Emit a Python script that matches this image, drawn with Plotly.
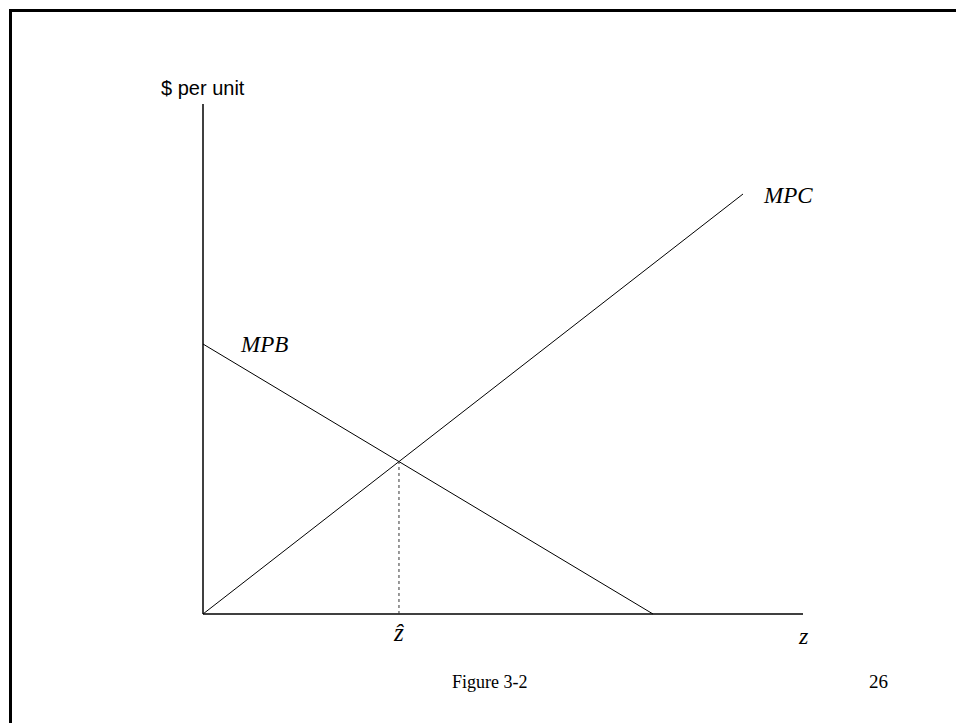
import plotly.graph_objects as go

# ---- data (economic units) ----
mpb_z = [0.0, 7.5]
mpb_p = [4.5, 0.0]
mpc_z = [0.0, 9.0]
mpc_p = [0.0, 7.0]
axis_x_max = 10.0
axis_y_max = 8.5

# equilibrium from the two lines
slope_b = (mpb_p[1] - mpb_p[0]) / (mpb_z[1] - mpb_z[0])
slope_c = (mpc_p[1] - mpc_p[0]) / (mpc_z[1] - mpc_z[0])
z_hat = (mpb_p[0] - mpc_p[0]) / (slope_c - slope_b)
p_hat = mpc_p[0] + slope_c * z_hat

W, H = 956, 723
ox, oy, s = 203, 614, 60.0  # origin pixel and pixels per unit

fig = go.Figure()
line_style = dict(color="black", width=1)
fig.add_trace(go.Scatter(x=[0, 0], y=[0, axis_y_max], mode="lines",
                         line=dict(color="black", width=1.5), hoverinfo="skip"))
fig.add_trace(go.Scatter(x=[0, axis_x_max], y=[0, 0], mode="lines",
                         line=dict(color="black", width=1.5), hoverinfo="skip"))
fig.add_trace(go.Scatter(x=mpb_z, y=mpb_p, mode="lines", line=line_style, hoverinfo="skip"))
fig.add_trace(go.Scatter(x=mpc_z, y=mpc_p, mode="lines", line=line_style, hoverinfo="skip"))
fig.add_trace(go.Scatter(x=[z_hat, z_hat], y=[0, p_hat], mode="lines",
                         line=dict(color="#333333", width=1, dash="dot"), hoverinfo="skip"))

times = "Liberation Serif, Times New Roman, serif"
arial = "Liberation Sans, Arial, sans-serif"
ann = [
    dict(x=0, y=8.77, text="$ per unit", font=dict(family=arial, size=20)),
    dict(x=1.02, y=4.49, text="<i>MPB</i>", font=dict(family=times, size=23)),
    dict(x=9.75, y=6.98, text="<i>MPC</i>", font=dict(family=times, size=23)),
    dict(x=z_hat, y=-0.30, text="<i>ẑ</i>", font=dict(family=times, size=25)),
    dict(x=axis_x_max, y=-0.37, text="<i>z</i>", font=dict(family=times, size=24)),
    dict(x=4.78, y=-1.13, text="Figure 3-2", font=dict(family=times, size=18)),
    dict(x=11.25, y=-1.13, text="26", font=dict(family=times, size=19)),
]
for a in ann:
    a.update(xref="x", yref="y", showarrow=False, xanchor="center", yanchor="middle")
    a["font"]["color"] = "black"

fig.update_layout(
    width=W, height=H, autosize=False,
    margin=dict(l=0, r=0, t=0, b=0),
    paper_bgcolor="white", plot_bgcolor="white",
    showlegend=False,
    annotations=ann,
    xaxis=dict(range=[-ox / s, (W - ox) / s], visible=False, fixedrange=True),
    yaxis=dict(range=[(oy - H) / s, oy / s], visible=False, fixedrange=True),
    shapes=[dict(type="rect", xref="paper", yref="paper",
                 x0=10.5 / W, x1=1.05, y0=-0.05, y1=1 - 10.5 / H,
                 line=dict(color="black", width=3))],
)

fig.write_html(
    "out.html",
    config={"displayModeBar": False},
    post_script="document.body.style.margin='0';document.body.style.overflow='hidden';",
)
